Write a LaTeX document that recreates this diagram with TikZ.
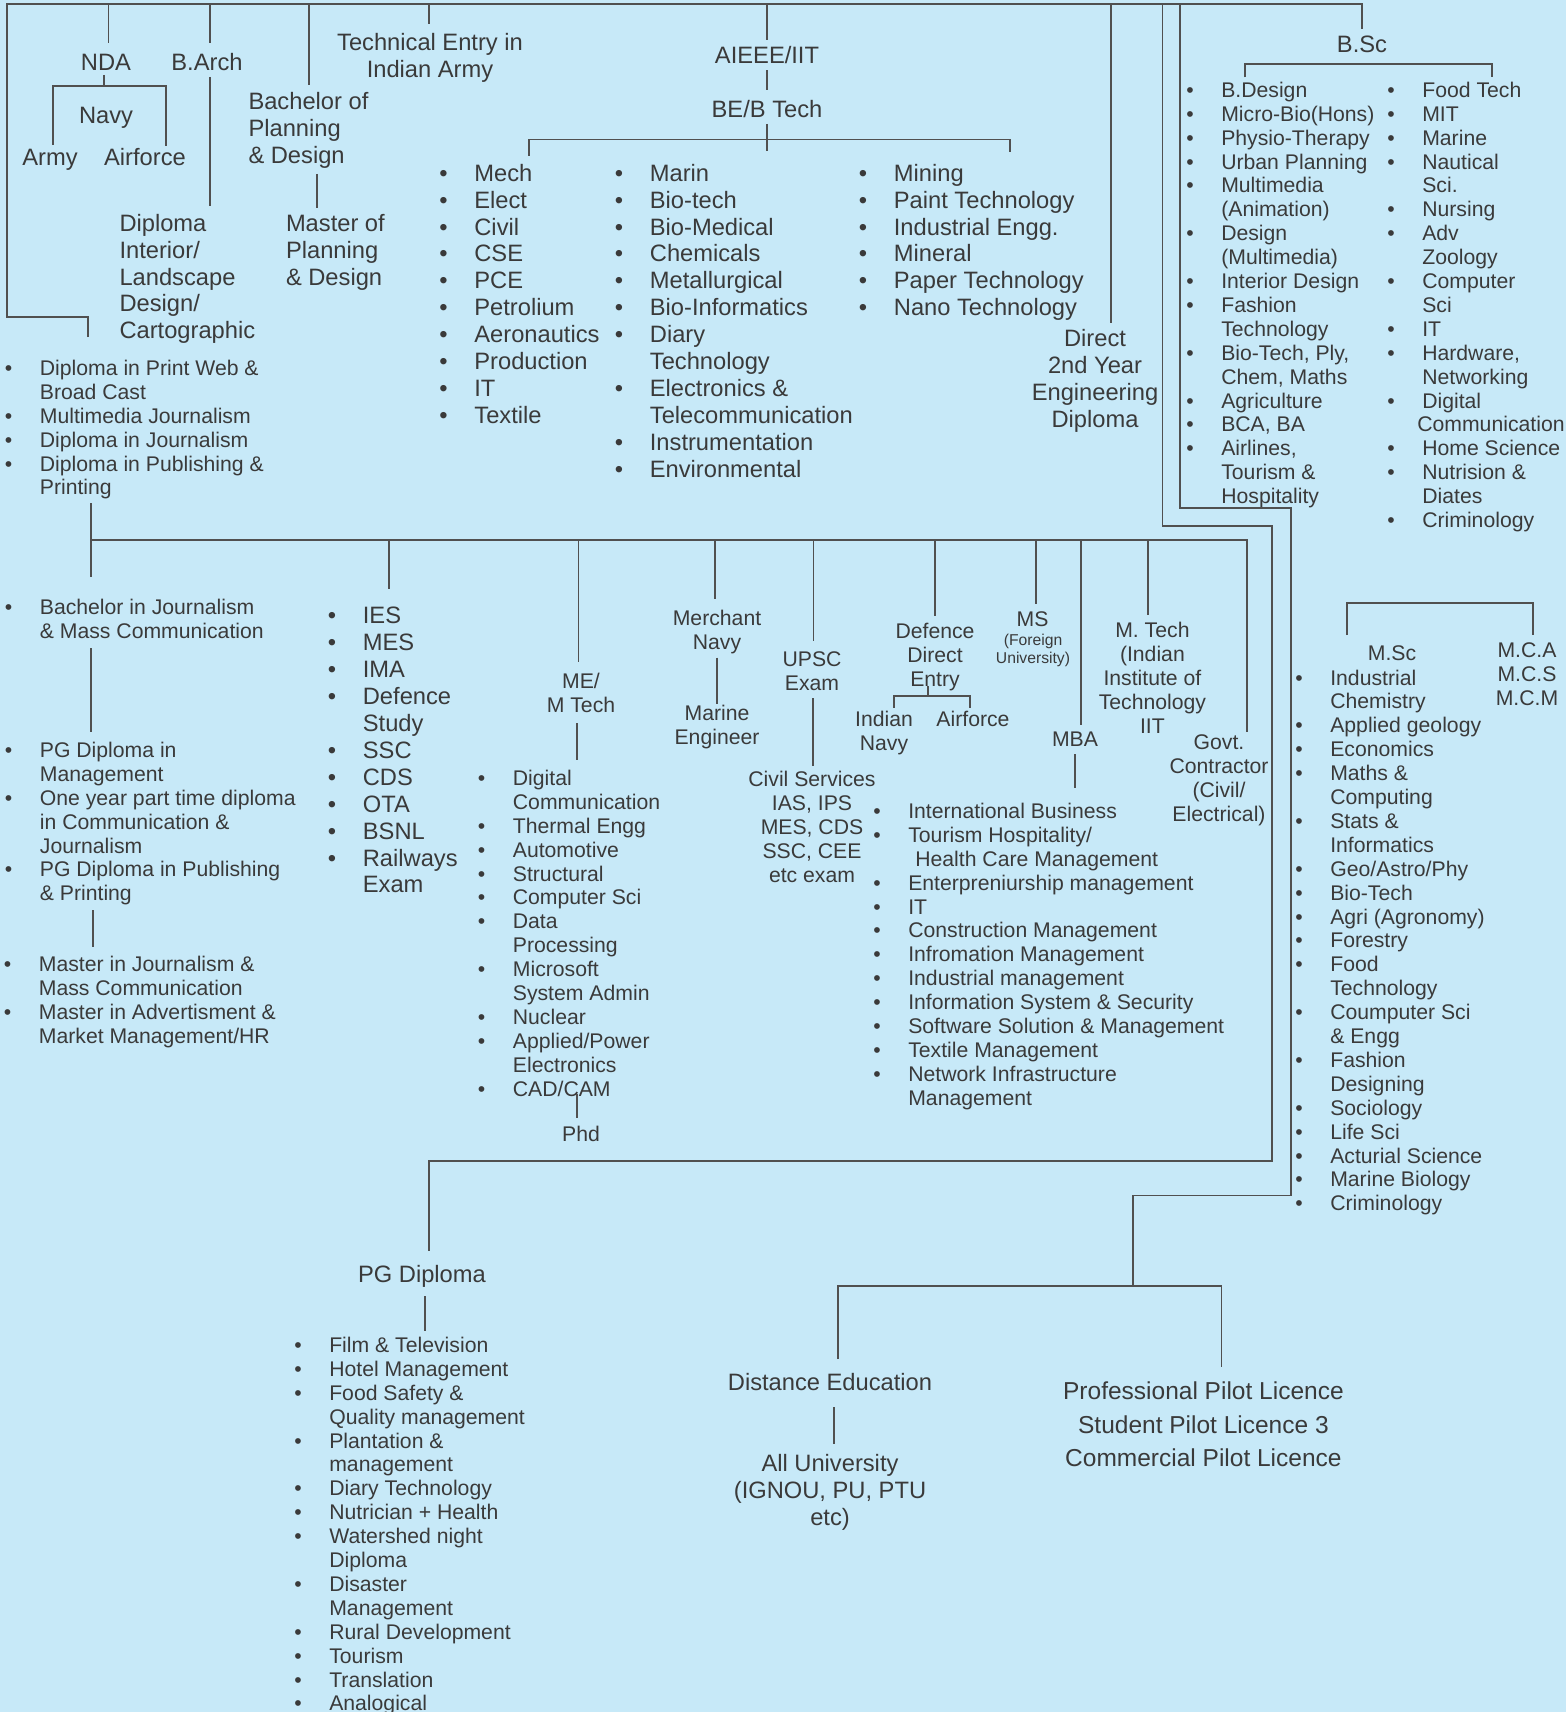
\documentclass[tikz,border=0pt]{standalone}
\usepackage{fontspec}
\setmainfont{Liberation Sans}
\definecolor{bgc}{RGB}{199,233,248}
\definecolor{txc}{RGB}{58,58,58}
\definecolor{lnc}{RGB}{80,80,80}
\newcommand\CT[1]{\begin{tabular}[t]{@{}c@{}}#1\end{tabular}}
\newcommand\LT[1]{\begin{tabular}[t]{@{}l@{}}#1\end{tabular}}
\newcommand\BL[1]{\begin{tabular}[t]{@{}l@{}l@{}}#1\end{tabular}}
\newcommand\bu{\makebox[35pt][l]{•}}
\tikzset{
  every node/.style={inner sep=0pt,outer sep=0pt,text=txc},
  bigt/.style={font=\fontsize{23.7}{26.9}\selectfont},
  nrmt/.style={font=\fontsize{21.2}{23.9}\selectfont},
  smlt/.style={font=\fontsize{15.7}{18}\selectfont},
  pilt/.style={font=\fontsize{24.5}{33.6}\selectfont},
  ln/.style={draw=lnc,line width=1.8pt},
}
\begin{document}
\begin{tikzpicture}[x=1pt,y=-1pt]
\fill[bgc] (0,0) rectangle (1566,1712);
\useasboundingbox (0,0) rectangle (1566,1712);

% ---------------- nodes: top part
\node[bigt,anchor=base] (nda) at (106,70.3) {NDA};
\node[bigt,anchor=base] (navy) at (106,123.3) {Navy};
\node[bigt,anchor=base] (army) at (50,165.3) {Army};
\node[bigt,anchor=base] (airf) at (145,165.3) {Airforce};
\node[bigt,anchor=base] (barch) at (207,70.3) {B.Arch};
\node[bigt,anchor=base west] (dipint) at (119.5,231.3) {\LT{Diploma\\Interior/\\Landscape\\Design/\\Cartographic}};
\node[bigt,anchor=base west] (bplan) at (248.5,109.9) {\LT{Bachelor of\\Planning\\\& Design}};
\node[bigt,anchor=base west] (mplan) at (286,231.3) {\LT{Master of\\Planning\\\& Design}};
\node[bigt,anchor=base] (tech) at (430,50.3) {\CT{Technical Entry in\\Indian Army}};
\node[bigt,anchor=base] (aieee) at (767,63.3) {AIEEE/IIT};
\node[bigt,anchor=base] (bebt) at (767,117.8) {BE/B Tech};
\node[bigt,anchor=base west] (be1) at (439.4,181.3) {\BL{\bu & Mech\\ \bu & Elect\\ \bu & Civil\\ \bu & CSE\\ \bu & PCE\\ \bu & Petrolium\\ \bu & Aeronautics\\ \bu & Production\\ \bu & IT\\ \bu & Textile}};
\node[bigt,anchor=base west] (be2) at (614.9,181.3) {\BL{\bu & Marin\\ \bu & Bio-tech\\ \bu & Bio-Medical\\ \bu & Chemicals\\ \bu & Metallurgical\\ \bu & Bio-Informatics\\ \bu & Diary\\ & Technology\\ \bu & Electronics \&\\ & Telecommunication\\ \bu & Instrumentation\\ \bu & Environmental}};
\node[bigt,anchor=base west] (be3) at (858.9,181.3) {\BL{\bu & Mining\\ \bu & Paint Technology\\ \bu & Industrial Engg.\\ \bu & Mineral\\ \bu & Paper Technology\\ \bu & Nano Technology}};
\node[bigt,anchor=base] (direct) at (1095,346.3) {\CT{Direct\\2nd Year\\Engineering\\Diploma}};
\node[bigt,anchor=base] (bsc) at (1362,52.3) {B.Sc};
\node[nrmt,anchor=base west] (bsc1) at (1186.3,97.4) {\BL{\bu & B.Design\\ \bu & Micro-Bio(Hons)\\ \bu & Physio-Therapy\\ \bu & Urban Planning\\ \bu & Multimedia\\ & (Animation)\\ \bu & Design\\ & (Multimedia)\\ \bu & Interior Design\\ \bu & Fashion\\ & Technology\\ \bu & Bio-Tech, Ply,\\ & Chem, Maths\\ \bu & Agriculture\\ \bu & BCA, BA\\ \bu & Airlines,\\ & Tourism \&\\ & Hospitality}};
\node[nrmt,anchor=base west] (bsc2) at (1387.3,97.4) {\BL{\bu & Food Tech\\ \bu & MIT\\ \bu & Marine\\ \bu & Nautical\\ & Sci.\\ \bu & Nursing\\ \bu & Adv\\ & Zoology\\ \bu & Computer\\ & Sci\\ \bu & IT\\ \bu & Hardware,\\ & Networking\\ \bu & Digital\\ & \hspace*{-5pt}Communication\\ \bu & Home Science\\ \bu & Nutrision \&\\ & Diates\\ \bu & Criminology}};
\node[nrmt,anchor=base west] (dipj) at (4.9,375.4) {\BL{\bu & Diploma in Print Web \&\\ & Broad Cast\\ \bu & Multimedia Journalism\\ \bu & Diploma in Journalism\\ \bu & Diploma in Publishing \&\\ & Printing}};

% ---------------- nodes: middle part
\node[nrmt,anchor=base west] (bj) at (4.9,614.4) {\BL{\bu & Bachelor in Journalism\\ & \& Mass Communication}};
\node[nrmt,anchor=base west] (pgj) at (4.9,757.4) {\BL{\bu & PG Diploma in\\ & Management\\ \bu & One year part time diploma\\ & in Communication \&\\ & Journalism\\ \bu & PG Diploma in Publishing\\ & \& Printing}};
\node[nrmt,anchor=base west] (mj) at (3.9,971.9) {\BL{\bu & Master in Journalism \&\\ & Mass Communication\\ \bu & Master in Advertisment \&\\ & Market Management/HR}};
\node[bigt,anchor=base west] (ies) at (327.9,623.9) {\BL{\bu & IES\\ \bu & MES\\ \bu & IMA\\ \bu & Defence\\ & Study\\ \bu & SSC\\ \bu & CDS\\ \bu & OTA\\ \bu & BSNL\\ \bu & Railways\\ & Exam}};
\node[nrmt,anchor=base] (me) at (581,688.4) {\CT{ME/\\M Tech}};
\node[nrmt,anchor=base west] (melist) at (477.9,785.4) {\BL{\bu & Digital\\ & Communication\\ \bu & Thermal Engg\\ \bu & Automotive\\ \bu & Structural\\ \bu & Computer Sci\\ \bu & Data\\ & Processing\\ \bu & Microsoft\\ & System Admin\\ \bu & Nuclear\\ \bu & Applied/Power\\ & Electronics\\ \bu & CAD/CAM}};
\node[nrmt,anchor=base] (phd) at (581,1141.4) {Phd};
\node[nrmt,anchor=base] (merch) at (717,625.4) {\CT{Merchant\\Navy}};
\node[nrmt,anchor=base] (marine) at (717,720.4) {\CT{Marine\\Engineer}};
\node[nrmt,anchor=base] (upsc) at (812,666.4) {\CT{UPSC\\Exam}};
\node[nrmt,anchor=base] (civil) at (812,786.4) {\CT{Civil Services\\IAS, IPS\\MES, CDS\\SSC, CEE\\etc exam}};
\node[nrmt,anchor=base] (def) at (935,638.4) {\CT{Defence\\Direct\\Entry}};
\node[nrmt,anchor=base] (inavy) at (884,726.4) {\CT{Indian\\Navy}};
\node[nrmt,anchor=base] (dairf) at (973,726.4) {Airforce};
\node[nrmt,anchor=base] (ms) at (1032.5,626.4) {MS};
\node[smlt,anchor=base] (foreign) at (1033,645.5) {\CT{(Foreign\\University)}};
\node[nrmt,anchor=base] (mba) at (1075,746.4) {MBA};
\node[nrmt,anchor=base west] (mbalist) at (873.3,818.4) {\BL{\bu & International Business\\ \bu & Tourism Hospitality/\\ & \hspace*{7pt}Health Care Management\\ \bu & Enterpreniurship management\\ \bu & IT\\ \bu & Construction Management\\ \bu & Infromation Management\\ \bu & Industrial management\\ \bu & Information System \& Security\\ \bu & Software Solution \& Management\\ \bu & Textile Management\\ \bu & Network Infrastructure\\ & Management}};
\node[nrmt,anchor=base] (mtech) at (1152.4,637.4) {\CT{M. Tech\\(Indian\\Institute of\\Technology\\IIT}};
\node[nrmt,anchor=base] (govt) at (1219,749.4) {\CT{Govt.\\Contractor\\(Civil/\\Electrical)}};
\node[nrmt,anchor=base] (msc) at (1392,660.9) {M.Sc};
\node[nrmt,anchor=base] (mca) at (1527,657.4) {\CT{M.C.A\\M.C.S\\M.C.M}};
\node[nrmt,anchor=base west] (msclist) at (1295.3,685) {\BL{\bu & Industrial\\ & Chemistry\\ \bu & Applied geology\\ \bu & Economics\\ \bu & Maths \&\\ & Computing\\ \bu & Stats \&\\ & Informatics\\ \bu & Geo/Astro/Phy\\ \bu & Bio-Tech\\ \bu & Agri (Agronomy)\\ \bu & Forestry\\ \bu & Food\\ & Technology\\ \bu & Coumputer Sci\\ & \& Engg\\ \bu & Fashion\\ & Designing\\ \bu & Sociology\\ \bu & Life Sci\\ \bu & Acturial Science\\ \bu & Marine Biology\\ \bu & Criminology}};

% ---------------- nodes: bottom part
\node[bigt,anchor=base] (pgd) at (422,1282.3) {PG Diploma};
\node[nrmt,anchor=base west] (pglist) at (294.3,1352.4) {\BL{\bu & Film \& Television\\ \bu & Hotel Management\\ \bu & Food Safety \&\\ & Quality management\\ \bu & Plantation \&\\ & management\\ \bu & Diary Technology\\ \bu & Nutrician + Health\\ \bu & Watershed night\\ & Diploma\\ \bu & Disaster\\ & Management\\ \bu & Rural Development\\ \bu & Tourism\\ \bu & Translation\\ \bu & Analogical}};
\node[bigt,anchor=base] (dist) at (830,1390.3) {Distance Education};
\node[bigt,anchor=base] (alluni) at (830,1471.3) {\CT{All University\\(IGNOU, PU, PTU\\etc)}};
\node[pilt,anchor=base] (pilot) at (1203.4,1399.6) {\CT{Professional Pilot Licence\\Student Pilot Licence 3\\Commercial Pilot Licence}};

% ---------------- coordinates of the connector network
\coordinate (busL) at (7,4);
\coordinate (busR) at (1362,4);
\coordinate (bscT) at (1362,29);
\coordinate (lc1) at (7,317);
\coordinate (lc2) at (88,317);
\coordinate (lc3) at (88,337);
\coordinate (ndaT) at (108.5,4);   \coordinate (ndaB) at (108.5,43);
\coordinate (barT) at (210,4);     \coordinate (barB) at (210,43);
\coordinate (bplT) at (309,4);     \coordinate (bplB) at (309,85);
\coordinate (tecT) at (429,4);     \coordinate (tecB) at (429,24);
\coordinate (aieT) at (767,4);     \coordinate (aieB) at (767,40);
\coordinate (dirT) at (1111,4);    \coordinate (dirB) at (1111,323);
\coordinate (l1a) at (1162.5,4);   \coordinate (l1b) at (1162.5,526);
\coordinate (l1c) at (1272,526);   \coordinate (l1d) at (1272,1161);
\coordinate (l1e) at (428.6,1161); \coordinate (l1f) at (428.6,1251);
\coordinate (l2a) at (1180,4);     \coordinate (l2b) at (1180,508);
\coordinate (l2c) at (1291,508);   \coordinate (l2d) at (1291,1195.5);
\coordinate (l2e) at (1132.6,1195.5); \coordinate (l2f) at (1132.6,1286);
\coordinate (plL) at (838,1286);   \coordinate (plLb) at (838,1359);
\coordinate (plR) at (1221.5,1286); \coordinate (plRb) at (1221.5,1367);
\coordinate (ndaS1) at (104,75);   \coordinate (ndaS2) at (104,86);
\coordinate (armyT) at (53,145);   \coordinate (airfT) at (166,146);
\coordinate (barS1) at (210,77);   \coordinate (barS2) at (210,206);
\coordinate (bplS1) at (317,174);  \coordinate (bplS2) at (317,208);
\coordinate (aieS1) at (767,70.5); \coordinate (aieS2) at (767,90);
\coordinate (beS1) at (767,124);   \coordinate (beS2) at (767,151);
\coordinate (beBL) at (529,155.6); \coordinate (beBR) at (1010,152);
\coordinate (beH) at (529,139.5);
\coordinate (bscBL) at (1245,77.4); \coordinate (bscBR) at (1492,77.4);
\coordinate (bscH) at (1245,63.7);
\coordinate (djB) at (91,503);
\coordinate (b2L) at (91,540);     \coordinate (b2R) at (1247,540);
\coordinate (bjT) at (91,577);
\coordinate (iesT) at (389,540);   \coordinate (iesB) at (389,589);
\coordinate (meT) at (578.5,540);  \coordinate (meB) at (578.5,662);
\coordinate (mnT) at (715,540);    \coordinate (mnB) at (715,599);
\coordinate (upT) at (813.5,540);  \coordinate (upB) at (813.5,641);
\coordinate (dfT) at (935,540);    \coordinate (dfB) at (935,616);
\coordinate (msT) at (1036,540);   \coordinate (msB) at (1036,603.6);
\coordinate (mbT) at (1081,540);   \coordinate (mbB) at (1081,725);
\coordinate (mtT) at (1148,540);   \coordinate (mtB) at (1148,614.6);
\coordinate (gvB) at (1247,731.6);
\coordinate (bjS1) at (91,648);    \coordinate (bjS2) at (91,732);
\coordinate (pgS1) at (93,910);    \coordinate (pgS2) at (93,947);
\coordinate (meS1) at (577,723);   \coordinate (meS2) at (577,760);
\coordinate (phS1) at (577,1093.6); \coordinate (phS2) at (577,1118);
\coordinate (mnS1) at (717,657.6); \coordinate (mnS2) at (717,704);
\coordinate (upS1) at (813,698);   \coordinate (upS2) at (813,766);
\coordinate (dfS1) at (928,686);   \coordinate (dfS2) at (928,696);
\coordinate (dfL) at (894,707.5);  \coordinate (dfR) at (970,707.5);
\coordinate (dfH) at (894,696);
\coordinate (mbS1) at (1075,754);  \coordinate (mbS2) at (1075,788);
\coordinate (mscL) at (1347,635);  \coordinate (mscR) at (1533,635);
\coordinate (mscH) at (1347,603);
\coordinate (pgdS1) at (425,1296); \coordinate (pgdS2) at (425,1330.6);
\coordinate (dsS1) at (834,1407);  \coordinate (dsS2) at (834,1444);

% ---------------- connectors
\draw[ln] (lc3) -- (lc2) -- (lc1) -- (busL) -- (busR) -- (bscT);
\draw[ln] (ndaT) -- (ndaB);
\draw[ln] (barT) -- (barB);
\draw[ln] (bplT) -- (bplB);
\draw[ln] (tecT) -- (tecB);
\draw[ln] (aieT) -- (aieB);
\draw[ln] (dirT) -- (dirB);
\draw[ln] (l1a) -- (l1b) -- (l1c) -- (l1d) -- (l1e) -- (l1f);
\draw[ln] (l2a) -- (l2b) -- (l2c) -- (l2d) -- (l2e) -- (l2f);
\draw[ln] (plLb) -- (plL) -- (plR) -- (plRb);
\draw[ln] (ndaS1) -- (ndaS2);
\draw[ln] (armyT) |- (ndaS2) -| (airfT);
\draw[ln] (barS1) -- (barS2);
\draw[ln] (bplS1) -- (bplS2);
\draw[ln] (aieS1) -- (aieS2);
\draw[ln] (beS1) -- (beS2);
\draw[ln] (beBL) -- (beH) -| (beBR);
\draw[ln] (bscBL) -- (bscH) -| (bscBR);
\draw[ln] (djB) -- (b2L) -- (b2R) -- (gvB);
\draw[ln] (b2L) -- (bjT);
\draw[ln] (iesT) -- (iesB);
\draw[ln] (meT) -- (meB);
\draw[ln] (mnT) -- (mnB);
\draw[ln] (upT) -- (upB);
\draw[ln] (dfT) -- (dfB);
\draw[ln] (msT) -- (msB);
\draw[ln] (mbT) -- (mbB);
\draw[ln] (mtT) -- (mtB);
\draw[ln] (bjS1) -- (bjS2);
\draw[ln] (pgS1) -- (pgS2);
\draw[ln] (meS1) -- (meS2);
\draw[ln] (phS1) -- (phS2);
\draw[ln] (mnS1) -- (mnS2);
\draw[ln] (upS1) -- (upS2);
\draw[ln] (dfS1) -- (dfS2);
\draw[ln] (dfL) -- (dfH) -| (dfR);
\draw[ln] (mbS1) -- (mbS2);
\draw[ln] (mscL) -- (mscH) -| (mscR);
\draw[ln] (pgdS1) -- (pgdS2);
\draw[ln] (dsS1) -- (dsS2);
\end{tikzpicture}
\end{document}
